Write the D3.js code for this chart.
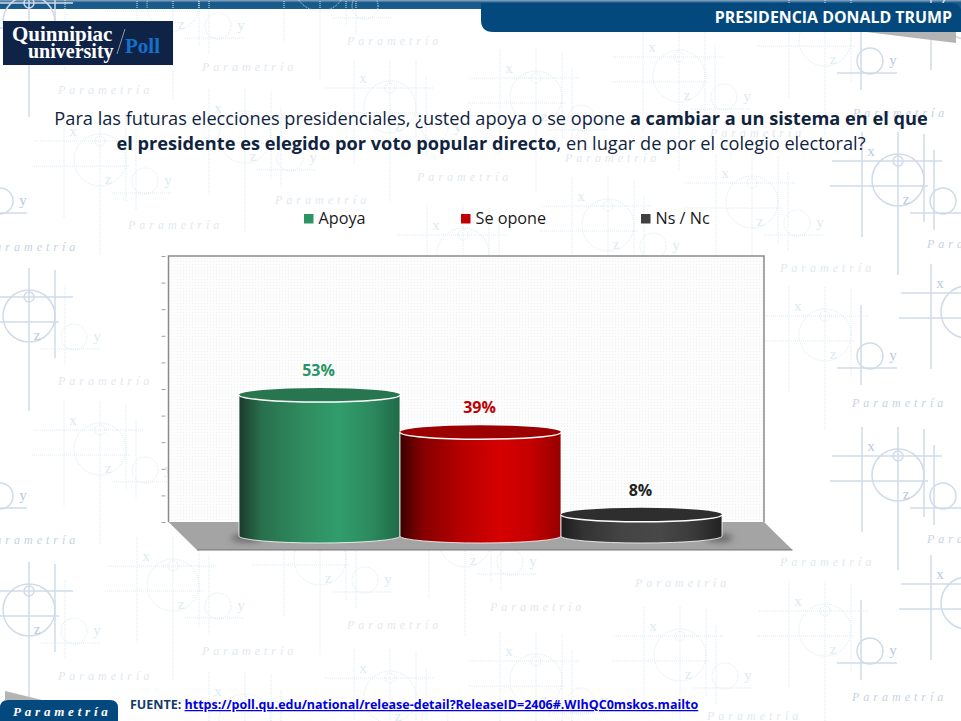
<!DOCTYPE html>
<html>
<head>
<meta charset="utf-8">
<script src="https://cdn.jsdelivr.net/npm/d3@7"></script>
<style>
  body { margin: 0; background: #fff; }
  svg { display: block; font-family: "Open Sans", sans-serif; }
</style>
</head>
<body>
<div id="graph"></div>
<script>
// Data
const categories = ['Apoya', 'Se opone', 'Ns / Nc']
const values = [53, 39, 8]
const yTicks = [0, 10, 20, 30, 40, 50, 60, 70, 80, 90, 100]

const titleLine1 = [['Para las futuras elecciones presidenciales, ¿usted apoya o se opone ', 400], ['a cambiar a un sistema en el que', 700]]
const titleLine2 = [['el presidente es elegido por voto popular directo', 700], [', en lugar de por el colegio electoral?', 400]]

// Background watermark: [centre x, centre y, strong, strong y-circle]
const motifs = [
  [29, 22, 1, 0], [29, 316, 1, 0], [29, 610, 1, 0], [-45, 180, 1, 1], [-45, 475, 1, 1],
  [898, 180, 1, 1], [898, 475, 1, 1], [967, 13, 1, 1], [967, 312, 1, 1], [967, 603, 1, 1],
  [100, 160, 0, 0], [100, 449, 0, 0], [173, 5, 0, 0], [173, 585, 0, 0], [245, 137, 0, 0], [245, 720, 0, 0],
  [390, 107, 0, 0], [390, 697, 0, 0], [320, -15, 0, 0], [320, 559, 0, 0], [465, 541, 0, 0], [463, 254, 0, 0],
  [536, 97, 0, 0], [536, 680, 0, 0], [679, 76, 0, 0], [680, 655, 0, 0], [608, 225, 0, 0], [752, 202, 0, 0],
  [825, 40, 0, 1], [825, 335, 0, 1], [825, 630, 0, 1]
]
const watermarkLabels = [
  [202, 67, 0], [58, 90, 0], [347, 41, 0], [417, 177, 0], [275, 200, 0], [128, 225, 0], [-16, 247, 1],
  [853, 113, 1], [710, 133, 0], [565, 158, 0], [927, 244, 1], [780, 268, 0], [852, 403, 1],
  [58, 381, 0], [-16, 540, 1], [927, 539, 1], [58, 676, 0], [202, 651, 0], [347, 625, 0],
  [490, 607, 0], [635, 583, 0], [780, 562, 0], [852, 697, 1], [707, 716, 0]
]

const total_width = 961
const total_height = 721
const wall = { left: 168.5, right: 764, top: 256, bottom: 522 }
const depth = { x: 28.5, y: 28 }
const barRy = 7
const baseY = 536

const svg = d3.select('#graph').append('svg')
  .attr('width', total_width)
  .attr('height', total_height)

const defs = svg.append('defs')

const x = d3.scaleBand().domain(categories).range([239, 722]).padding(0)
// height scale shares the wall's 0-100 range
const y = d3.scaleLinear().domain([0, 100]).range([wall.bottom, wall.top])
const barHeight = v => wall.bottom - y(v)

const legendColor = d3.scaleOrdinal().domain(categories).range(['#2e9466', '#c00000', '#404040'])
const labelColor = d3.scaleOrdinal().domain(categories).range(['#2a9463', '#c00000', '#222222'])
const topColor = d3.scaleOrdinal().domain(categories).range(['#287650', '#9c0000', '#2e2e2e'])
const bodyStops = d3.scaleOrdinal().domain(categories).range([
  ['#1b3b2b', '#28704d', '#2f8a5e', '#319d6c', '#2c8a5e', '#1f6a47'],
  ['#3a0000', '#860000', '#b60000', '#d60000', '#c40000', '#960000'],
  ['#1c1c1c', '#333333', '#444444', '#484848', '#3a3a3a', '#222222']
])
const stopOffsets = ['0%', '14%', '38%', '62%', '82%', '100%']

categories.forEach((c, i) => {
  let g = defs.append('linearGradient').attr('id', 'body' + i)
  bodyStops(c).forEach((s, j) => {
    g.append('stop').attr('offset', stopOffsets[j]).attr('stop-color', s)
  })
})

defs.append('filter').attr('id', 'blur')
  .attr('x', '-30%').attr('y', '-100%').attr('width', '160%').attr('height', '300%')
  .append('feGaussianBlur').attr('stdDeviation', 3)

let wallTexture = defs.append('pattern').attr('id', 'wallTexture')
  .attr('width', 3).attr('height', 3).attr('patternUnits', 'userSpaceOnUse')
wallTexture.append('rect').attr('width', 3).attr('height', 3).attr('fill', '#fdfdfd')
wallTexture.append('rect').attr('width', 1).attr('height', 1).attr('fill', '#eef1f4')

let topBand = defs.append('linearGradient').attr('id', 'topBand').attr('x2', 0).attr('y2', 1)
topBand.append('stop').attr('offset', '0%').attr('stop-color', '#8fa9c0')
topBand.append('stop').attr('offset', '30%').attr('stop-color', '#17588a')
topBand.append('stop').attr('offset', '100%').attr('stop-color', '#1c5d8e')

// Top band goes under the watermark, its lines show through
svg.append('rect').attr('width', total_width).attr('height', 9).attr('fill', 'url(#topBand)')

// Watermark
const mark = svg.append('g').attr('fill', 'none')

function line(g, x1, y1, x2, y2, strong) {
  g.append('line')
    .attr('x1', x1).attr('y1', y1).attr('x2', x2).attr('y2', y2)
    .attr('stroke', strong ? '#d0dbea' : '#dcebf1')
    .attr('stroke-width', strong ? 1.5 : 1)
    .attr('stroke-dasharray', strong ? null : '1 1')
}

function circle(g, cx, cy, r, strong) {
  g.append('circle')
    .attr('cx', cx).attr('cy', cy).attr('r', r)
    .attr('stroke', strong ? '#d0dbea' : '#dcebf1')
    .attr('stroke-width', strong ? 1.5 : 1)
    .attr('stroke-dasharray', strong ? null : '1 1')
}

// letters off the page or behind the chart wall are not drawn
function letter(g, t, m, dx, dy, strong) {
  let px = m[0] + dx
  let py = m[1] + dy
  let offPage = px < 5 || px > total_width - 5 || py < 12 || py > total_height
  let hidden = px > wall.left && px < wall.right && py > wall.top && py < wall.bottom + depth.y + 8
  if (offPage || hidden) return
  g.append('text')
    .attr('x', dx).attr('y', dy)
    .attr('text-anchor', 'middle')
    .attr('font-family', '"Liberation Serif", serif')
    .attr('font-size', 15)
    .attr('fill', strong ? '#b9c9df' : '#dcebf1')
    .text(t)
}

motifs.forEach(m => {
  let g = mark.append('g').attr('transform', `translate(${m[0]}, ${m[1]})`)
  let s = m[2]
  let ys = m[3]
  line(g, -36, -48, -36, 57, s)
  line(g, 0, -48, 0, 95, s)
  line(g, 26, -46, 26, 42, s)
  line(g, 36, -30, 36, 50, ys)
  line(g, -66, -19, 44, -19, s)
  line(g, -68, 6, 30, 6, s)
  line(g, 12, 33, 72, 33, ys)
  circle(g, 0, 0, 26, s)
  circle(g, 0, -19, 5, s)
  circle(g, 45, 21, 13, ys)
  letter(g, 'x', m, -27, -24, s)
  letter(g, 'z', m, 8, 24, s)
  letter(g, 'y', m, 68, 25, ys)
})

watermarkLabels.forEach(l => {
  mark.append('text')
    .attr('x', l[0]).attr('y', l[1] + 4)
    .attr('font-family', '"Liberation Serif", serif')
    .attr('font-style', 'italic')
    .attr('font-size', 12)
    .attr('letter-spacing', 4)
    .attr('fill', l[2] ? '#c6d2e2' : '#dfe9ef')
    .text('Parametría')
})

// Header
svg.append('path')
  .attr('d', 'M481,3 H952 Q958,3 961,9 V32 H493 Q481,32 481,20 Z')
  .attr('fill', '#04497e')
svg.append('path').attr('d', 'M866,32 H956 V43 Z').attr('fill', '#b4b4b4')
svg.append('text')
  .attr('x', 952).attr('y', 23)
  .attr('text-anchor', 'end')
  .attr('font-weight', 700).attr('font-size', 15.9)
  .attr('fill', '#fff')
  .text('PRESIDENCIA DONALD TRUMP')

// Logo
svg.append('rect').attr('x', 3).attr('y', 21).attr('width', 170).attr('height', 44).attr('fill', '#0f2347')
const logoFont = '"Liberation Serif", serif'
svg.append('text').attr('x', 12).attr('y', 41)
  .attr('font-family', logoFont).attr('font-weight', 700).attr('font-size', 21)
  .attr('fill', '#fff').text('Quinnipiac')
svg.append('text').attr('x', 28).attr('y', 58)
  .attr('font-family', logoFont).attr('font-weight', 700).attr('font-size', 20)
  .attr('fill', '#fff').text('university')
svg.append('line').attr('x1', 117).attr('y1', 54).attr('x2', 125).attr('y2', 29)
  .attr('stroke', '#8d99ad').attr('stroke-width', 1)
svg.append('text').attr('x', 125).attr('y', 53)
  .attr('font-family', logoFont).attr('font-weight', 700).attr('font-size', 21)
  .attr('fill', '#1470cc').text('Poll')

// Question
function titleText(parts, baseline) {
  let t = svg.append('text')
    .attr('x', 491).attr('y', baseline)
    .attr('text-anchor', 'middle')
    .attr('font-size', 18.2)
    .attr('fill', '#10233f')
  parts.forEach(p => t.append('tspan').attr('font-weight', p[1]).text(p[0]))
}
titleText(titleLine1, 125)
titleText(titleLine2, 150)

// Legend
const legendX = d3.scaleOrdinal().domain(categories).range([304, 461, 641])
const legend = svg.append('g')
categories.forEach(c => {
  legend.append('rect')
    .attr('x', legendX(c)).attr('y', 214)
    .attr('width', 9.5).attr('height', 9.5)
    .attr('fill', legendColor(c))
  legend.append('text')
    .attr('x', legendX(c) + 14.5).attr('y', 224)
    .attr('font-size', 16.2).attr('fill', '#1a1a1a')
    .text(c)
})

// Floor and wall
svg.append('path')
  .attr('d', `M${wall.left},${wall.bottom} H${wall.right} L${wall.right + depth.x},${wall.bottom + depth.y} H${wall.left + depth.x} Z`)
  .attr('fill', '#a4a4a4')
svg.append('line')
  .attr('x1', wall.left + depth.x).attr('x2', wall.right + depth.x)
  .attr('y1', wall.bottom + depth.y).attr('y2', wall.bottom + depth.y)
  .attr('stroke', '#77727a').attr('stroke-width', 1.2)
svg.append('path')
  .attr('d', `M${wall.left},${wall.bottom} V${wall.top} H${wall.right} V${wall.bottom}`)
  .attr('fill', 'url(#wallTexture)')
  .attr('stroke', '#8a8a8a').attr('stroke-width', 1.5)

const axis = svg.append('g')
  .attr('transform', `translate(${wall.left}, 0)`)
  .call(d3.axisLeft(y).tickValues(yTicks).tickSize(4).tickPadding(0).tickFormat(''))
axis.select('.domain').remove()
axis.selectAll('.tick line').attr('stroke', '#a0a0a0').attr('transform', 'translate(-3, 0)')

// Cylinders
const rx = x.bandwidth() / 2
const bars = svg.append('g')

// contact shadows at both outer ends of the row
bars.append('ellipse')
  .attr('cx', x(categories[0]) + 8).attr('cy', baseY + 2)
  .attr('rx', 16).attr('ry', 4)
  .attr('fill', '#666').attr('filter', 'url(#blur)')
bars.append('ellipse')
  .attr('cx', x(categories[2]) + x.bandwidth() - 3).attr('cy', baseY + 2)
  .attr('rx', 14).attr('ry', 4)
  .attr('fill', '#666').attr('filter', 'url(#blur)')

categories.forEach((c, i) => {
  let x0 = x(c)
  let x1 = x0 + x.bandwidth()
  let cx = x0 + rx
  let topY = baseY - barHeight(values[i])

  bars.append('path')
    .attr('d', `M${x0},${topY} V${baseY} A${rx},${barRy} 0 0 0 ${x1},${baseY} V${topY} Z`)
    .attr('fill', `url(#body${i})`)
  // white rim around the body
  bars.append('path')
    .attr('d', `M${x0},${topY} V${baseY} A${rx},${barRy} 0 0 0 ${x1},${baseY} V${topY}`)
    .attr('fill', 'none')
    .attr('stroke', '#fff').attr('stroke-opacity', 0.8).attr('stroke-width', 1)
  bars.append('ellipse')
    .attr('cx', cx).attr('cy', topY)
    .attr('rx', rx).attr('ry', barRy)
    .attr('fill', topColor(c))
  bars.append('path')
    .attr('d', `M${x0},${topY} A${rx},${barRy} 0 0 0 ${x1},${topY}`)
    .attr('fill', 'none')
    .attr('stroke', '#fff').attr('stroke-width', 1.5)

  bars.append('text')
    .attr('x', cx - 1).attr('y', topY - 19)
    .attr('text-anchor', 'middle')
    .attr('font-weight', 700).attr('font-size', 16)
    .attr('fill', labelColor(c))
    .text(values[i] + '%')
})

// Footer
svg.append('path').attr('d', 'M5,691 L42,700 H5 Z').attr('fill', '#b4b4b4')
svg.append('path')
  .attr('d', 'M0,708 Q0,700 8,700 H110 Q118,700 118,708 V721 H0 Z')
  .attr('fill', '#04497e')
svg.append('text')
  .attr('x', 13).attr('y', 716)
  .attr('font-family', '"Liberation Serif", serif')
  .attr('font-style', 'italic').attr('font-weight', 700)
  .attr('font-size', 13).attr('letter-spacing', 3.8)
  .attr('fill', '#fff')
  .text('Parametría')

let source = svg.append('text')
  .attr('x', 130).attr('y', 709)
  .attr('font-weight', 700).attr('font-size', 12.5)
source.append('tspan').attr('fill', '#123a6b').text('FUENTE: ')
source.append('tspan').attr('fill', '#0000e0').attr('text-decoration', 'underline')
  .text('https://poll.qu.edu/national/release-detail?ReleaseID=2406#.WIhQC0mskos.mailto')
</script>
</body>
</html>
